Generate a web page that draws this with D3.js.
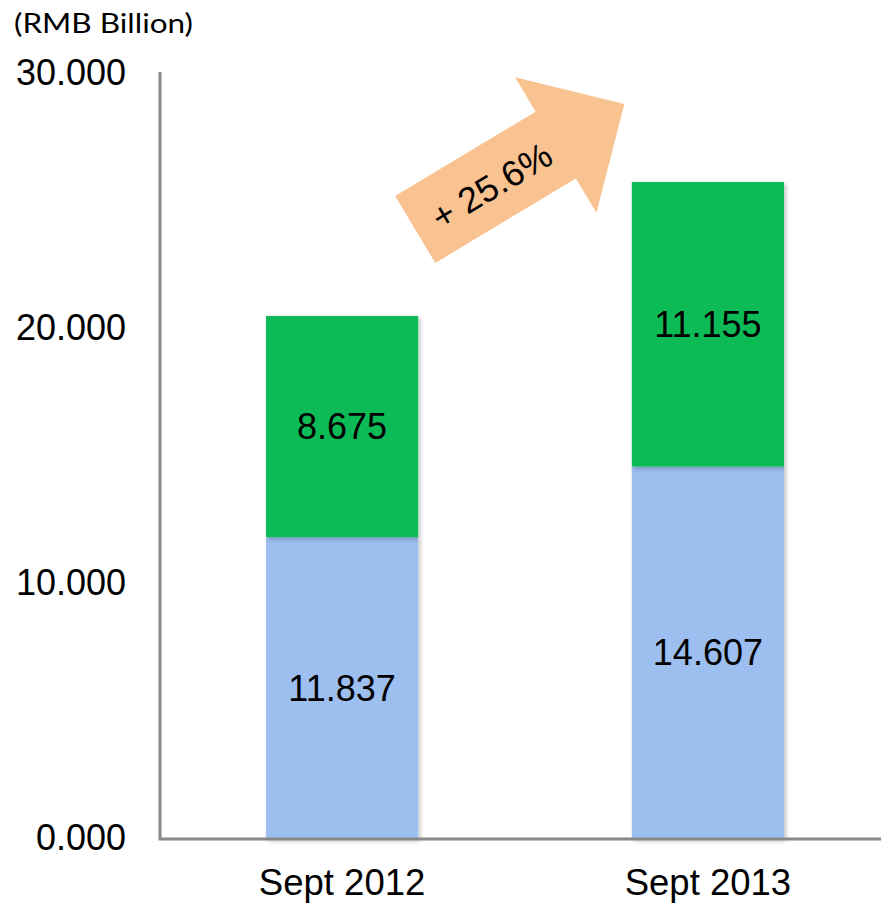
<!DOCTYPE html>
<html>
<head>
<meta charset="utf-8">
<script src="https://cdn.jsdelivr.net/npm/d3@7"></script>
<style>
  body { margin: 0; background: #fff; }
  text { font-family: "Liberation Sans", Arial, sans-serif; fill: #000; }
</style>
</head>
<body>
<div id="chart"></div>
<script>
// chart data
var categories = ["Sept 2012", "Sept 2013"]
var lowerValues = [11.837, 14.607]
var upperValues = [8.675, 11.155]
var yTicks = [0, 10, 20, 30]
var unitLabel = "(RMB Billion)"
var growthLabel = "+ 25.6%"

var width = 881, height = 903

var svg = d3.select("#chart").append("svg")
    .attr("width", width)
    .attr("height", height)

var defs = svg.append("defs")
var shadow = defs.append("filter").attr("id", "barShadow")
    .attr("x", "-10%").attr("y", "-10%").attr("width", "130%").attr("height", "130%")
shadow.append("feDropShadow")
    .attr("dx", 2).attr("dy", 2).attr("stdDeviation", 2)
    .attr("flood-color", "#000").attr("flood-opacity", 0.25)

var axisLeftX = 160

var x = d3.scaleBand()
    .domain(categories)
    .range([266, 784])
    .paddingInner(0.584)
    .paddingOuter(0)

var y = d3.scaleLinear()
    .domain([0, 30])
    .range([839, 74])

var rows = categories.map(function (c, i) {
  return { cat: c, lower: lowerValues[i], upper: upperValues[i] }
})

var stack = d3.stack().keys(["lower", "upper"])(rows)
var colors = { lower: "#9cbff0", upper: "#07bb57" }

// bars
var layers = svg.selectAll(".layer")
    .data(stack)
    .join("g")
      .attr("class", "layer")
      .attr("fill", function (d) { return colors[d.key] })

layers.selectAll("rect")
    .data(function (d) { return d })
    .join("rect")
      .attr("filter", "url(#barShadow)")
      .attr("x", function (d) { return x(d.data.cat) })
      .attr("width", x.bandwidth())
      .attr("y", function (d) { return y(d[1]) })
      .attr("height", function (d) { return y(d[0]) - y(d[1]) })

// value labels
layers.selectAll("text")
    .data(function (d) { return d.map(function (s) { return { s: s, key: d.key } }) })
    .join("text")
      .attr("x", function (d) { return x(d.s.data.cat) + x.bandwidth() / 2 })
      .attr("y", function (d) { return (y(d.s[0]) + y(d.s[1])) / 2 })
      .attr("text-anchor", "middle")
      .attr("dominant-baseline", "central")
      .attr("font-size", 36)
      .text(function (d) { return d3.format(".3f")(d.s.data[d.key]) })

// y axis
var yAxis = svg.append("g")
    .attr("transform", "translate(" + axisLeftX + ",0)")
    .call(d3.axisLeft(y).tickValues(yTicks).tickFormat(d3.format(".3f")).tickSize(0).tickPadding(34))
yAxis.select(".domain").remove()
yAxis.selectAll("text")
    .attr("font-size", 36)
    .attr("dy", "0.3em")
    .attr("font-family", "Liberation Sans, Arial, sans-serif")
    .attr("fill", "#000")

// x axis
var xAxis = svg.append("g")
    .attr("transform", "translate(0," + y(0) + ")")
    .call(d3.axisBottom(x).tickSize(0).tickPadding(30))
xAxis.select(".domain").remove()
xAxis.selectAll("text")
    .attr("font-size", 36.5)
    .attr("font-family", "Liberation Sans, Arial, sans-serif")
    .attr("fill", "#000")

// axis lines
svg.append("path")
    .attr("d", "M" + axisLeftX + "," + (y(30) - 2) + "V" + y(0) + "H" + width)
    .attr("fill", "none")
    .attr("stroke", "#888")
    .attr("stroke-width", 3)

// unit label
svg.append("text")
    .attr("x", 14)
    .attr("y", 33)
    .attr("font-size", 26)
    .attr("textLength", 179)
    .attr("lengthAdjust", "spacingAndGlyphs")
    .style("font-family", "Lato, 'Open Sans', sans-serif")
    .text(unitLabel)

// growth arrow
var arrowX = x(categories[0]) + x.bandwidth() - 3
var arrowY = y(23.9)
var shaft = 39, head = 79, neck = 164, tip = 244
var arrow = svg.append("g")
    .attr("transform", "translate(" + arrowX + "," + arrowY + ") rotate(-31)")

arrow.append("path")
    .attr("d", d3.line()([
      [0, -shaft], [neck, -shaft], [neck, -head], [tip, 0],
      [neck, head], [neck, shaft], [0, shaft]
    ]) + "Z")
    .attr("fill", "#f9c291")

arrow.append("text")
    .attr("x", 88)
    .attr("y", 2)
    .attr("text-anchor", "middle")
    .attr("dominant-baseline", "central")
    .attr("font-size", 36)
    .text(growthLabel)
</script>
</body>
</html>
